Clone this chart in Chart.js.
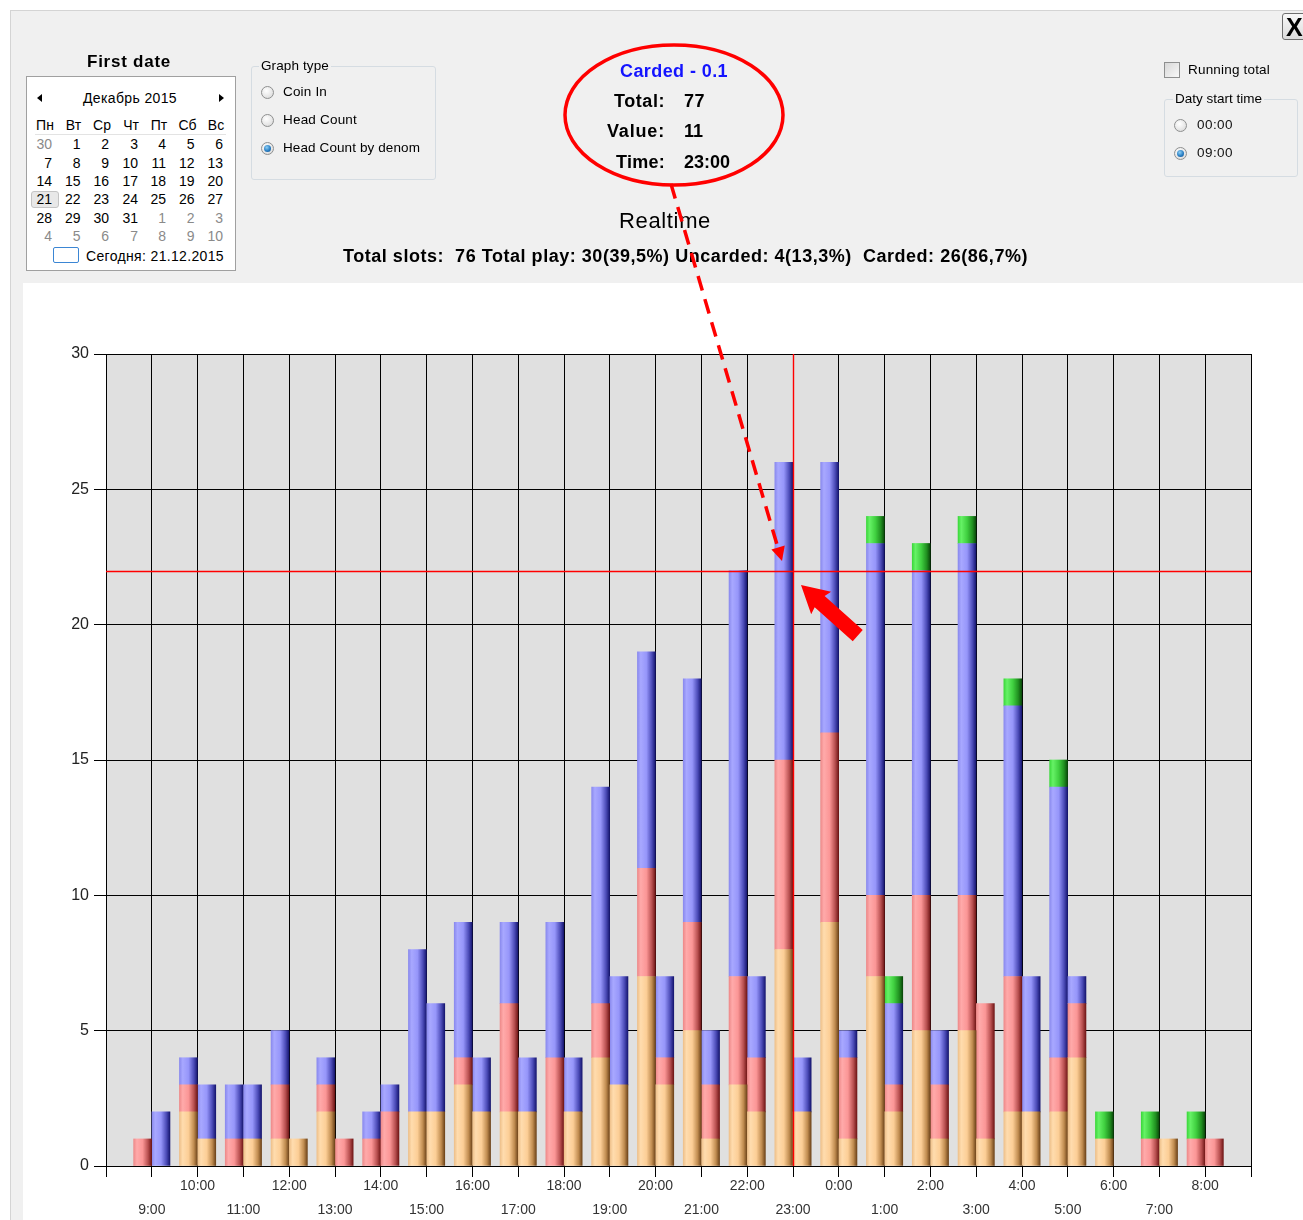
<!DOCTYPE html>
<html>
<head>
<meta charset="utf-8">
<script src="https://cdn.jsdelivr.net/npm/chart.js@4.4.1/dist/chart.umd.min.js"></script>
<style>
html,body{margin:0;padding:0;width:1303px;height:1220px;overflow:hidden;background:#fff;font-family:"Liberation Sans",Arial,sans-serif;}
#panel{position:absolute;left:10px;top:10px;width:1293px;height:1210px;background:#f0f0f0;border-left:1px solid #d4d4d4;border-top:1px solid #d4d4d4;box-sizing:border-box;}
#plotbg{position:absolute;left:23px;top:283px;width:1280px;height:937px;background:#fff;}
#chartWrap{position:absolute;left:24px;top:283px;width:1279px;height:937px;}
#ui{position:absolute;left:0;top:0;width:1303px;height:1220px;}
.t{position:absolute;white-space:pre;line-height:1;}
.box{position:absolute;box-sizing:border-box;}
.radio{position:absolute;width:13px;height:13px;border-radius:50%;border:1px solid #8e8f8f;box-sizing:border-box;background:radial-gradient(circle at 40% 35%,#ffffff 0%,#e6e6e6 60%,#cfcfcf 100%);}
.radio.on::after{content:"";position:absolute;left:2px;top:2px;width:7px;height:7px;border-radius:50%;background:radial-gradient(circle at 40% 35%,#8fd0f5 0%,#2a7fc4 55%,#0d4a86 100%);}
#ann{position:absolute;left:0;top:0;pointer-events:none;}
</style>
</head>
<body>
<div id="panel"></div>
<div id="plotbg"></div>
<div id="chartWrap"><canvas id="c" width="1279" height="937"></canvas></div>
<div id="ui"></div>
<svg id="ann" width="1303" height="1220">
  <ellipse cx="674" cy="115" rx="109" ry="70" fill="none" stroke="#ff0000" stroke-width="3.5"/>
  <line x1="671" y1="184" x2="778" y2="548" stroke="#ff0000" stroke-width="3.5" stroke-dasharray="15 9"/>
  <polygon points="782,561 771.4,549.4 784.8,545.6" fill="#ff0000"/>
  <g transform="translate(801,585) rotate(41.7)">
    <polygon points="0,0 27,-15 25,-7.5 76,-7.5 76,7.5 25,7.5 27,15" fill="#ff0000"/>
  </g>
</svg>
<script>
// ---------------- data ----------------
const hourValues = [9,10,11,12,13,14,15,16,17,18,19,20,21,22,23,24,25,26,27,28,29,30,31,32];
const hourLabels = ['9:00','10:00','11:00','12:00','13:00','14:00','15:00','16:00','17:00','18:00','19:00','20:00',
                    '21:00','22:00','23:00','0:00','1:00','2:00','3:00','4:00','5:00','6:00','7:00','8:00'];
const yTickValues = [0,5,10,15,20,25,30];

const leftOrange  = [0,2,0,1,2,0,2,3,2,0,4,7,5,3,8,9,7,5,5,2,2,1,0,0];
const leftPink    = [1,1,1,2,1,1,0,1,4,4,2,4,4,4,7,7,3,5,5,5,2,0,1,1];
const leftBlue    = [0,1,2,2,1,1,6,5,3,5,8,8,9,15,11,10,13,12,13,10,10,0,0,0];
const leftGreen   = [0,0,0,0,0,0,0,0,0,0,0,0,0,0,0,0,1,1,1,1,1,1,1,1];

const rightOrange = [0,1,1,1,0,0,2,2,2,2,3,3,1,2,2,1,2,1,1,2,4,0,1,0];
const rightPink   = [0,0,0,0,1,2,0,0,0,0,0,1,2,2,0,3,1,2,5,0,2,0,0,1];
const rightBlue   = [2,2,2,0,0,1,4,2,2,2,4,3,2,3,2,1,3,2,0,5,1,0,0,0];
const rightGreen  = [0,0,0,0,0,0,0,0,0,0,0,0,0,0,0,0,1,0,0,0,0,0,0,0];

const cursorHour = 23;   // 23:00
const cursorValue = 22;

// ---------------- chart ----------------
const BAR_W = 18;
const HALF = 0.2; // bar offset from hour line (in hours)

function pts(leftArr, rightArr) {
  const out = [];
  hourValues.forEach((h, i) => {
    out.push({x: h - HALF, y: leftArr[i] === 0 ? null : leftArr[i]});
    out.push({x: h + HALF, y: rightArr[i] === 0 ? null : rightArr[i]});
  });
  return out;
}
function grad(stops) {
  return (c) => {
    const chart = c.chart;
    if (c.type !== 'data' || !chart.chartArea || !c.parsed) return stops[2][1];
    const x = chart.scales.x.getPixelForValue(c.parsed.x);
    const g = chart.ctx.createLinearGradient(x - BAR_W/2, 0, x + BAR_W/2, 0);
    stops.forEach(s => g.addColorStop(s[0], s[1]));
    return g;
  };
}
const cOrange = [[0,'#eec08a'],[0.18,'#ffdcae'],[0.5,'#fcce96'],[0.8,'#c08c50'],[1,'#6e441a']];
const cPink   = [[0,'#ee8a8a'],[0.18,'#ffaaaa'],[0.5,'#fb9696'],[0.8,'#b85050'],[1,'#701616']];
const cBlue   = [[0,'#8a8aee'],[0.18,'#a8a8ff'],[0.5,'#9696fa'],[0.8,'#4c4cb8'],[1,'#161670']];
const cGreen  = [[0,'#3cd83c'],[0.18,'#66f266'],[0.5,'#40d040'],[0.8,'#209020'],[1,'#0a480a']];

const plotBg = {
  id: 'plotBg',
  beforeDraw(chart) {
    const {ctx, chartArea: a} = chart;
    ctx.save(); ctx.fillStyle = '#e0e0e0';
    ctx.fillRect(a.left, a.top, a.right - a.left, a.bottom - a.top);
    ctx.restore();
  }
};
const cursor = {
  id: 'cursor',
  afterDraw(chart) {
    const {ctx, chartArea: a, scales: {x, y}} = chart;
    const px = Math.round(x.getPixelForValue(cursorHour)) + 0.5;
    const py = Math.round(y.getPixelForValue(cursorValue)) + 0.5;
    ctx.save();
    ctx.strokeStyle = 'rgb(255,0,0)';
    ctx.lineWidth = 1.4;
    ctx.setLineDash([]);
    ctx.beginPath(); ctx.moveTo(a.left, py); ctx.lineTo(a.right, py); ctx.stroke();
    ctx.beginPath(); ctx.moveTo(px, a.top); ctx.lineTo(px, a.bottom); ctx.stroke();
    ctx.restore();
  }
};

new Chart(document.getElementById('c'), {
  type: 'bar',
  data: {
    datasets: [
      {label: 'Orange', data: pts(leftOrange, rightOrange), backgroundColor: grad(cOrange)},
      {label: 'Pink',   data: pts(leftPink, rightPink),     backgroundColor: grad(cPink)},
      {label: 'Blue',   data: pts(leftBlue, rightBlue),     backgroundColor: grad(cBlue)},
      {label: 'Green',  data: pts(leftGreen, rightGreen),   backgroundColor: grad(cGreen)}
    ]
  },
  options: {
    responsive: false,
    devicePixelRatio: 1,
    animation: false,
    barThickness: BAR_W,
    layout: {padding: {top: 71, right: 52, left: 0, bottom: 0}},
    plugins: {legend: {display: false}, tooltip: {enabled: false}},
    scales: {
      x: {
        type: 'linear', stacked: true, offset: false,
        min: hourValues[0] - 1, max: hourValues[hourValues.length - 1] + 1,
        grid: {offset: false, color: '#000', lineWidth: 1, drawTicks: true, tickLength: 11},
        border: {display: true, color: '#000', width: 1},
        afterFit: (s) => { s.height = 54; },
        ticks: {
          stepSize: 1, autoSkip: false, maxRotation: 0, minRotation: 0, padding: -2,
          color: '#333', font: {family: 'Liberation Sans', size: 14, lineHeight: 1.65},
          callback: (v) => {
            const i = hourValues.indexOf(v);
            if (i < 0) return '';
            return (v % 2 === 0) ? [hourLabels[i], ''] : ['', hourLabels[i]];
          }
        }
      },
      y: {
        stacked: true, min: yTickValues[0], max: yTickValues[yTickValues.length - 1],
        grid: {color: '#000', lineWidth: 1, drawTicks: true, tickLength: 12},
        border: {display: true, color: '#000', width: 1},
        afterFit: (s) => { s.width = 82; },
        ticks: {stepSize: 5, padding: 5, color: '#222', font: {family: 'Liberation Sans', size: 16}}
      }
    }
  },
  plugins: [plotBg, cursor]
});

// ---------------- UI texts ----------------
const ui = document.getElementById('ui');
function txt(s, x, y, o = {}) {
  const el = document.createElement('div');
  el.className = 't';
  el.textContent = s;
  el.style.fontSize = (o.size || 14) + 'px';
  el.style.fontWeight = o.bold ? 'bold' : 'normal';
  el.style.color = o.color || '#000';
  if (o.bg) { el.style.background = o.bg; el.style.padding = '0 2px'; }
  ui.appendChild(el);
  if (o.width) {
    const w0 = el.getBoundingClientRect().width;
    el.style.letterSpacing = ((o.width - w0) / s.length) + 'px';
  }
  const r = el.getBoundingClientRect();
  let left = x;
  if (o.align === 'center') left = x - r.width / 2;
  else if (o.align === 'right') left = x - r.width;
  el.style.left = left + 'px';
  el.style.top = (y - r.height / 2) + 'px';
  return el;
}
function box(x, y, w, h, css) {
  const el = document.createElement('div');
  el.className = 'box';
  el.style.left = x + 'px'; el.style.top = y + 'px';
  el.style.width = w + 'px'; el.style.height = h + 'px';
  el.style.cssText += css;
  ui.appendChild(el);
  return el;
}
function radio(cx, cy, on) {
  const el = document.createElement('div');
  el.className = 'radio' + (on ? ' on' : '');
  el.style.left = (cx - 6.5) + 'px'; el.style.top = (cy - 6.5) + 'px';
  ui.appendChild(el);
}

// close button
box(1282, 13, 34, 27, 'border:1px solid #6f6f6f;border-radius:3px;background:linear-gradient(#f8f8f8,#dcdcdc);');
txt('X', 1286, 27, {size: 25, bold: true});

// First date + calendar
txt('First date', 129, 61, {size: 17, bold: true, align: 'center', width: 84});
box(26, 76, 210, 195, 'border:1px solid #a0a0a0;background:#fff;');
box(37, 94, 0, 0, 'border-top:4px solid transparent;border-bottom:4px solid transparent;border-right:5px solid #000;');
box(219, 94, 0, 0, 'border-top:4px solid transparent;border-bottom:4px solid transparent;border-left:5px solid #000;');
txt('Декабрь 2015', 130, 98, {size: 14, align: 'center', width: 94});
const colRight = [52, 80.5, 109, 138, 166, 194.5, 223];
const dayNames = ['Пн','Вт','Ср','Чт','Пт','Сб','Вс'];
dayNames.forEach((d, i) => txt(d, colRight[i] - 7, 125, {size: 14, align: 'center'}));
box(35, 134, 191, 1, 'background:#e3e3e3;');
box(31, 191, 28, 17, 'background:#e8e8e8;border:1px solid #c4c4c4;border-radius:3px;');
const rowsY = [144, 162.5, 181, 199, 217.5, 236];
const calRows = [
  [['30',1],['1'],['2'],['3'],['4'],['5'],['6']],
  [['7'],['8'],['9'],['10'],['11'],['12'],['13']],
  [['14'],['15'],['16'],['17'],['18'],['19'],['20']],
  [['21'],['22'],['23'],['24'],['25'],['26'],['27']],
  [['28'],['29'],['30'],['31'],['1',1],['2',1],['3',1]],
  [['4',1],['5',1],['6',1],['7',1],['8',1],['9',1],['10',1]]
];
calRows.forEach((row, r) => row.forEach((c, i) =>
  txt(c[0], colRight[i], rowsY[r], {size: 14, align: 'right', color: c[1] ? '#8a8a8a' : '#000'})));
box(53, 247, 26, 16, 'border:1.5px solid #3b86d4;border-radius:2px;');
txt('Сегодня: 21.12.2015', 86, 256, {size: 14, width: 138});

// Graph type group
box(251, 66, 185, 114, 'border:1px solid #d5dce2;border-radius:3px;');
txt('Graph type', 259, 66, {size: 13.5, bg: '#f0f0f0', width: 72});
radio(267, 92, false); radio(267, 120, false); radio(267, 148, true);
txt('Coin In', 283, 92, {size: 13.5, width: 44});
txt('Head Count', 283, 120, {size: 13.5, width: 74});
txt('Head Count by denom', 283, 148, {size: 13.5, width: 137});

// center info
txt('Carded - 0.1', 674, 71, {size: 18, bold: true, color: '#1414ff', align: 'center', width: 108});
txt('Total:', 665, 101, {size: 18, bold: true, align: 'right', width: 51});
txt('77', 684, 101, {size: 18, bold: true, width: 21});
txt('Value:', 665, 131, {size: 18, bold: true, align: 'right', width: 58});
txt('11', 684, 131, {size: 18, bold: true, width: 19});
txt('Time:', 665, 162, {size: 18, bold: true, align: 'right', width: 49});
txt('23:00', 684, 162, {size: 18, bold: true, width: 46});
txt('Realtime', 665, 221, {size: 22, align: 'center', width: 92});
txt('Total slots:  76 Total play: 30(39,5%) Uncarded: 4(13,3%)  Carded: 26(86,7%)', 343, 256, {size: 18, bold: true, width: 685});

// right controls
box(1164, 62, 16, 16, 'border:1px solid #8e8f8f;background:linear-gradient(135deg,#d8d8d8,#f8f8f8);');
txt('Running total', 1188, 70, {size: 13.5, width: 82});
box(1164, 99, 134, 78, 'border:1px solid #d5dce2;border-radius:3px;');
txt('Daty start time', 1173, 99, {size: 13.5, bg: '#f0f0f0', width: 91});
radio(1180, 125, false); radio(1180, 153, true);
txt('00:00', 1197, 125, {size: 13.5, color: '#111', width: 36});
txt('09:00', 1197, 153, {size: 13.5, color: '#111', width: 36});
</script>
</body>
</html>
